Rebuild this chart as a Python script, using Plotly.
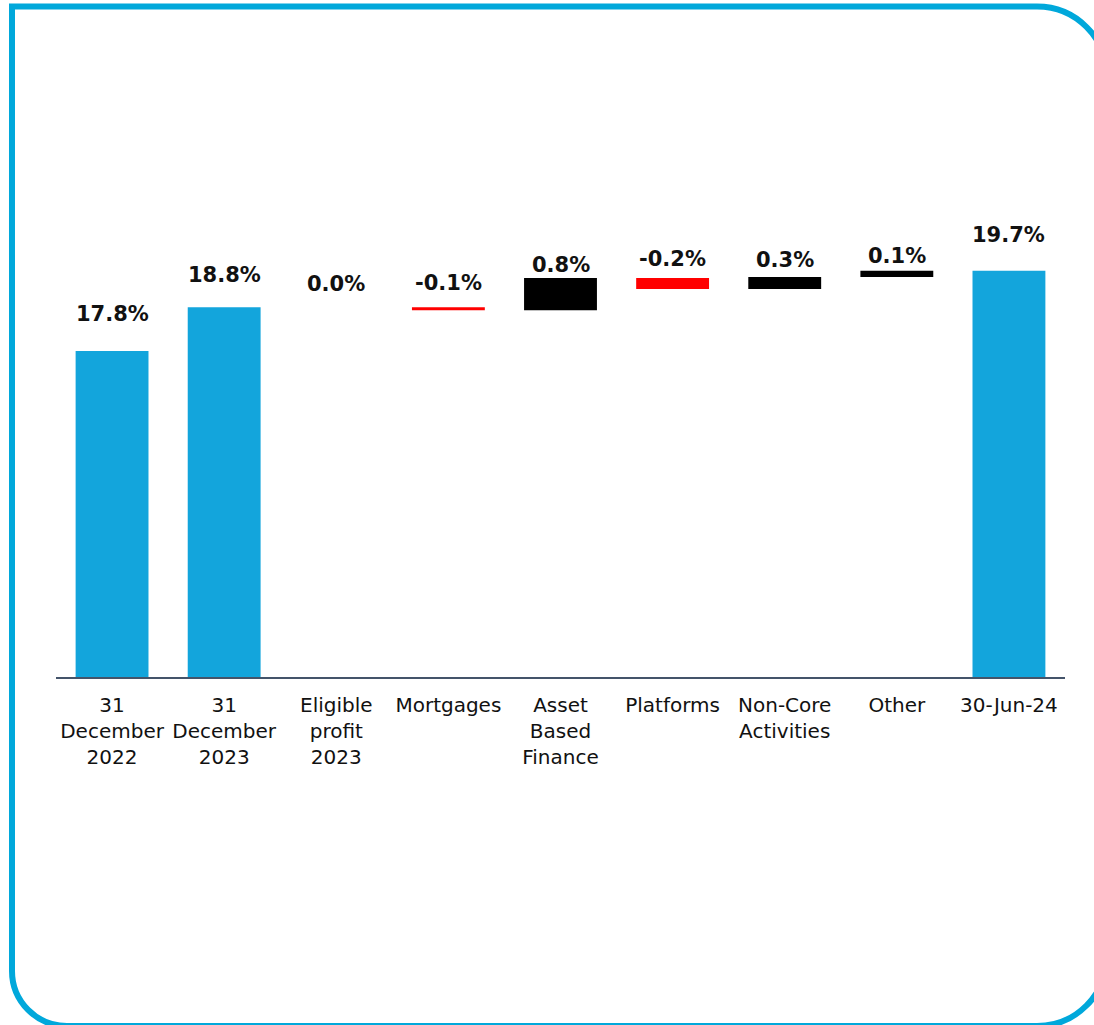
import plotly.graph_objects as go

# ---- data ----
categories = ["31<br>December<br>2022", "31<br>December<br>2023", "Eligible<br>profit<br>2023",
              "Mortgages", "Asset<br>Based<br>Finance", "Platforms", "Non-Core<br>Activities",
              "Other", "30-Jun-24"]
measures = ["total", "total", "relative", "relative", "relative", "relative", "relative", "relative", "total"]
values = [17.77, 18.80, 0.00, -0.07, 0.76, -0.26, 0.28, 0.15, 19.66]
labels = ["17.8%", "18.8%", "0.0%", "-0.1%", "0.8%", "-0.2%", "0.3%", "0.1%", "19.7%"]

# ---- styling / positions ----
label_shift = [37.5, 32.5, 23, 24, 12.5, 18.5, 17.5, 14.5, 35.5]  # px above bar top
BLUE = "#13A5DC"
RED = "#FF0000"
BLACK = "#000000"
BORDER = "#00A8DB"

W, H = 1094, 1025
ML, MR, MT, MB = 56, 29, 60, 348
PW, PH = W - ML - MR, H - MT - MB
YMIN = 10.10
PX_PER_UNIT = 42.5
YMAX = YMIN + PH / PX_PER_UNIT

# running waterfall
bases, heights, colors, tops = [], [], [], []
running = 0.0
for m, v in zip(measures, values):
    if m == "total":
        bases.append(0.0)
        heights.append(v)
        colors.append(BLUE)
        running = v
        tops.append(v)
    else:
        bases.append(running)
        heights.append(v)
        colors.append(BLACK if v >= 0 else RED)
        tops.append(max(running, running + v))
        running += v

fig = go.Figure()
fig.add_trace(go.Bar(
    x=list(range(len(categories))), y=heights, base=bases,
    marker=dict(color=colors, line=dict(width=0)),
    width=0.65, hoverinfo="skip",
))

for i, (lab, top, sh) in enumerate(zip(labels, tops, label_shift)):
    fig.add_annotation(x=i, y=top, text="<b>%s</b>" % lab, showarrow=False,
                       yanchor="middle", yshift=sh,
                       font=dict(family="DejaVu Sans", size=21, color="#111111"))

# rounded border (pixel coords -> paper coords)
def px(x):
    return (x - ML) / PW

def py(y):
    return (H - MB - y) / PH

k = 0.5523
L, T, R, B = 12, 6.5, 1107, 1026
rtr, rbr, rbl = 70, 70, 55
path = (
    f"M {px(L)},{py(T)} "
    f"L {px(R - rtr)},{py(T)} "
    f"C {px(R - rtr + k*rtr)},{py(T)} {px(R)},{py(T + rtr - k*rtr)} {px(R)},{py(T + rtr)} "
    f"L {px(R)},{py(B - rbr)} "
    f"C {px(R)},{py(B - rbr + k*rbr)} {px(R - rbr + k*rbr)},{py(B)} {px(R - rbr)},{py(B)} "
    f"L {px(L + rbl)},{py(B)} "
    f"C {px(L + rbl - k*rbl)},{py(B)} {px(L)},{py(B - rbl + k*rbl)} {px(L)},{py(B - rbl)} Z"
)
fig.add_shape(type="path", path=path, xref="paper", yref="paper",
              line=dict(color=BORDER, width=6), fillcolor="rgba(0,0,0,0)", layer="above")

fig.update_layout(
    width=W, height=H,
    margin=dict(l=ML, r=MR, t=MT, b=MB),
    paper_bgcolor="white", plot_bgcolor="white",
    showlegend=False,
    bargap=0.35,
    font=dict(family="DejaVu Sans", size=20, color="#111111"),
)
fig.update_xaxes(
    tickmode="array", tickvals=list(range(len(categories))), ticktext=categories,
    range=[-0.5, len(categories) - 0.5],
    showline=True, linecolor="#44546A", linewidth=1.5,
    showgrid=False, zeroline=False, ticks="",
    ticklabelstandoff=9,
    tickfont=dict(family="DejaVu Sans", size=20, color="#111111"),
    tickangle=0,
)
fig.update_yaxes(range=[YMIN, YMAX], visible=False, showgrid=False, zeroline=False)

fig.write_html("out.html", config={"displayModeBar": False},
               post_script="document.body.style.margin='0';document.body.style.overflow='hidden';")
